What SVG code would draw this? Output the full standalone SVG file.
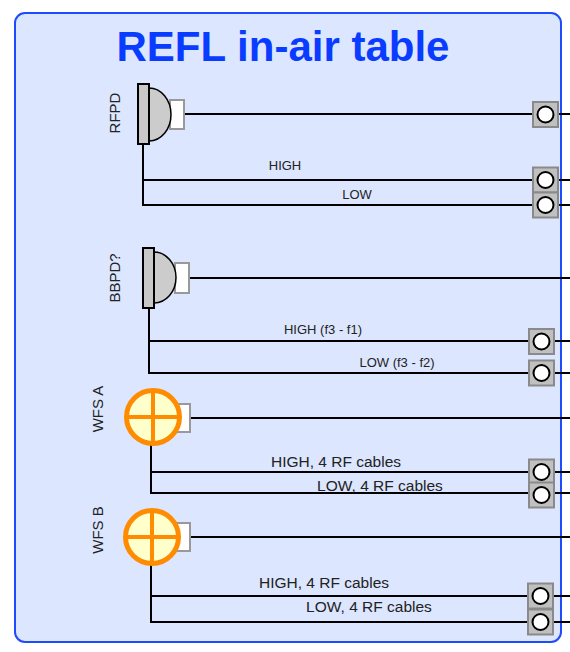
<svg xmlns="http://www.w3.org/2000/svg" width="570" height="652" viewBox="0 0 570 652">
<style>
.wire{stroke:#000;stroke-width:2;fill:none}
.bar{fill:#c8c8c8;stroke:#000;stroke-width:2}
.dome{fill:#cccccc;stroke:#000;stroke-width:1.5}
.plug{fill:#fff;stroke:#999;stroke-width:2}
.jack{fill:#c0c0c0;stroke:#8a8a8a;stroke-width:2}
.hole{fill:#fff;stroke:#000;stroke-width:2}
.wfs{fill:#ffffcc;stroke:#ff8c00;stroke-width:5}
.cross{stroke:#ff8c00;stroke-width:4}
.lbl{font-family:"Liberation Sans",Arial,sans-serif;fill:#222}
.side{font-size:15px;text-anchor:middle}
.small{font-size:13px;text-anchor:middle}
.mid{font-size:15.5px;text-anchor:middle}
</style>
<rect id="frame" x="15" y="13" width="546" height="629" rx="10" fill="#dce6ff" stroke="#1f4bff" stroke-width="2"/>
<text id="title" x="283" y="61" font-family="Liberation Sans,Arial,sans-serif" font-weight="bold" font-size="42" fill="#0a3cff" text-anchor="middle">REFL in-air table</text>
<g id="connectors">
<path class="wire" d="M184,114H570 M143,144V206 M143,180H570 M143,205H570"/>
<path class="wire" d="M189,278H570 M149,308V374 M149,341H570 M149,373H570"/>
<path class="wire" d="M190,418H570 M151,445V494 M151,472H570 M151,493H570"/>
<path class="wire" d="M190,537H570 M151,565V623 M151,596H570 M151,622H570"/>
<text class="lbl small" x="285" y="170">HIGH</text>
<text class="lbl small" x="357" y="199">LOW</text>
<text class="lbl small" x="323" y="334">HIGH (f3 - f1)</text>
<text class="lbl small" x="397" y="367">LOW (f3 - f2)</text>
<text class="lbl mid" x="336" y="467">HIGH, 4 RF cables</text>
<text class="lbl mid" x="380" y="491">LOW, 4 RF cables</text>
<text class="lbl mid" x="324" y="588">HIGH, 4 RF cables</text>
<text class="lbl mid" x="369" y="612">LOW, 4 RF cables</text>
</g>
<g id="RFPD">
<rect class="plug" x="170" y="100" width="14" height="29"/>
<path class="dome" d="M149,88A22,26.5 0 0 1 149,141Z"/>
<rect class="bar" x="138" y="84" width="11" height="60"/>
<text class="lbl side" transform="translate(120,113) rotate(-90)">RFPD</text>
</g>
<g id="BBPD">
<rect class="plug" x="175" y="263" width="14" height="30"/>
<path class="dome" d="M154,252A22,25.5 0 0 1 154,303Z"/>
<rect class="bar" x="143" y="248" width="11" height="60"/>
<text class="lbl side" transform="translate(120,278) rotate(-90)">BBPD?</text>
</g>
<g id="WFSA">
<rect class="plug" x="176" y="404" width="14" height="28"/>
<circle class="wfs" cx="153" cy="417" r="26.5"/>
<path class="cross" d="M126.5,417H179.5 M153,390.5V443.5"/>
<text class="lbl side" transform="translate(103,409) rotate(-90)">WFS A</text>
</g>
<g id="WFSB">
<rect class="plug" x="176" y="523" width="14" height="28"/>
<circle class="wfs" cx="152" cy="537" r="26.5"/>
<path class="cross" d="M125.5,537H178.5 M152,510.5V563.5"/>
<text class="lbl side" transform="translate(103,530) rotate(-90)">WFS B</text>
</g>
<g id="jacks">
<rect class="jack" x="533" y="102" width="25" height="25"/><circle class="hole" cx="545.5" cy="114.5" r="8"/>
<rect class="jack" x="533" y="167.5" width="25" height="25"/><circle class="hole" cx="545.5" cy="180" r="8"/>
<rect class="jack" x="533" y="192.5" width="25" height="25"/><circle class="hole" cx="545.5" cy="205" r="8"/>
<rect class="jack" x="529" y="329" width="25" height="25"/><circle class="hole" cx="541.5" cy="341.5" r="8"/>
<rect class="jack" x="529" y="360.5" width="25" height="25"/><circle class="hole" cx="541.5" cy="373" r="8"/>
<rect class="jack" x="529" y="459.5" width="25" height="25"/><circle class="hole" cx="541.5" cy="472" r="8"/>
<rect class="jack" x="529" y="482.5" width="25" height="25"/><circle class="hole" cx="541.5" cy="495" r="8"/>
<rect class="jack" x="528" y="583.5" width="25" height="25"/><circle class="hole" cx="540.5" cy="596" r="8"/>
<rect class="jack" x="528" y="609.5" width="25" height="25"/><circle class="hole" cx="540.5" cy="622" r="8"/>
</g>
</svg>
